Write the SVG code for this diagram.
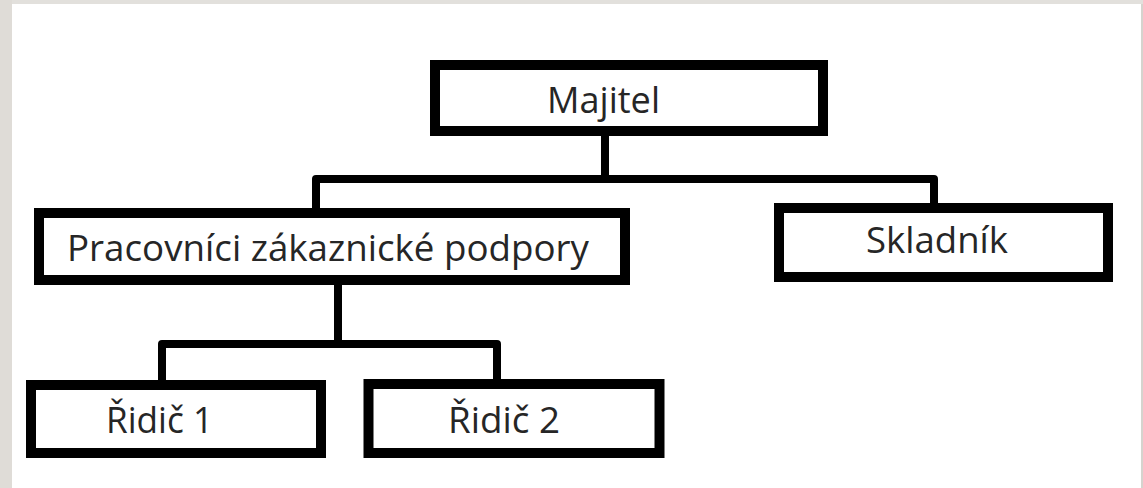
<svg xmlns="http://www.w3.org/2000/svg" width="1143" height="488" viewBox="0 0 1143 488">
  <style>
    .box { fill: #ffffff; stroke: #000000; stroke-width: 10; }
    .lbl { font-family: "Open Sans", "Noto Sans", "Liberation Sans", sans-serif; font-size: 37px; fill: #262626; text-anchor: middle; }
    .conn { fill: none; stroke: #000000; stroke-width: 8; stroke-linejoin: round; }
  </style>
  <rect x="0" y="0" width="1143" height="488" fill="#ffffff"/>
  <rect x="0" y="0" width="1143" height="4" fill="#e2e0dc"/>
  <rect x="0" y="0" width="12" height="488" fill="#dfdcd7"/>
  <rect x="1141" y="4" width="2" height="484" fill="#d6d3ce"/>

  <g id="connectors">
    <path class="conn" d="M605,136 V179"/>
    <path class="conn" d="M316,209 V179 H934 V204"/>
    <path class="conn" d="M338,285 V344"/>
    <path class="conn" d="M162,381 V344 H497 V380"/>
  </g>

  <g id="node-majitel">
    <rect class="box" x="435" y="65" width="388" height="66"/>
    <text class="lbl" x="603.5" y="113" textLength="113" lengthAdjust="spacingAndGlyphs">Majitel</text>
  </g>
  <g id="node-pracovnici">
    <rect class="box" x="39" y="213" width="586" height="67"/>
    <text class="lbl" x="328" y="261" textLength="522" lengthAdjust="spacingAndGlyphs">Pracovníci zákaznické podpory</text>
  </g>
  <g id="node-skladnik">
    <rect class="box" x="779" y="208" width="329" height="69"/>
    <text class="lbl" x="937" y="253" textLength="142" lengthAdjust="spacingAndGlyphs">Skladník</text>
  </g>
  <g id="node-ridic1">
    <rect class="box" x="31" y="385" width="290" height="68"/>
    <text class="lbl" x="159.5" y="433" textLength="107" lengthAdjust="spacingAndGlyphs">Řidič 1</text>
  </g>
  <g id="node-ridic2">
    <rect class="box" x="368.5" y="384" width="291" height="69"/>
    <text class="lbl" x="504" y="433" textLength="112" lengthAdjust="spacingAndGlyphs">Řidič 2</text>
  </g>
</svg>
